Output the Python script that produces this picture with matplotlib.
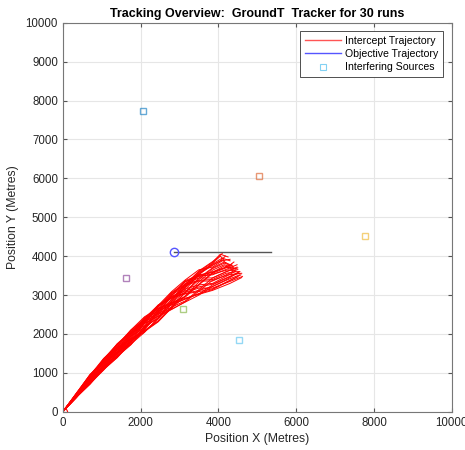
import matplotlib.pyplot as plt
from matplotlib.lines import Line2D

plt.rcParams['font.family'] = ['Liberation Sans', 'DejaVu Sans']

# mean track stations (metres)
station_x = [0, 350, 700, 1050, 1400, 1750, 2100, 2450, 2800, 3150, 3500, 3850]
station_y = [0, 420, 835, 1220, 1570, 1910, 2240, 2540, 2830, 3100, 3320, 3480]

# per-run vertical deviation from the mean track at stations 1..11
run_dy = [
    [30, 90, 40, -60, -120, -40, 80, 180, 120, 240, 300],
    [-40, -110, -150, -90, 20, 130, 60, -80, -200, -280, -340],
    [10, 60, 140, 170, 90, -30, -150, -60, 90, 180, 120],
    [-20, 30, -40, -140, -180, -100, 20, 150, 240, 160, 60],
    [50, 120, 100, 30, -60, -150, -200, -120, 40, 200, 340],
    [-55, -120, -80, 20, 120, 180, 110, -40, -180, -300, -360],
    [20, -30, -100, -160, -90, 40, 170, 220, 150, 40, -120],
    [-10, 70, 130, 80, -40, -160, -220, -150, -20, 120, 220],
    [40, 20, -50, -20, 80, 160, 200, 120, -60, -200, -260],
    [-30, -80, -20, 90, 170, 120, -10, -140, -250, -180, -40],
    [15, 100, 150, 110, 30, -70, -120, 20, 180, 280, 360],
    [-45, -60, 10, 120, 190, 200, 120, -20, -150, -60, 80],
    [5, -50, -130, -180, -140, -50, 80, 200, 270, 200, 100],
    [35, 80, 20, -80, -170, -200, -130, 10, 130, 260, 320],
    [-15, -90, -140, -170, -100, 20, 140, 240, 180, 60, -80],
    [60, 110, 60, -30, -110, -180, -230, -160, -30, -140, -300],
    [-50, -20, 60, 150, 190, 140, 40, -80, -200, -290, -220],
    [25, 50, 110, 60, -20, 60, 160, 100, -40, 80, 200],
    [-25, -100, -60, 30, 100, 30, -90, -200, -270, -220, -100],
    [45, 10, -70, -130, -60, 70, 190, 260, 290, 330, 240],
    [-5, 40, 90, 40, -50, -120, -60, 70, 200, 120, -40],
    [20, -40, -110, -60, 40, 110, 180, 90, -70, -230, -320],
    [-35, -70, -20, 70, 140, 80, -40, -170, -120, 20, 160],
    [10, 80, 120, 160, 120, 30, -80, -190, -280, -320, -260],
    [-60, -20, 50, 10, -90, -190, -150, -30, 110, 220, 280],
    [30, -20, -80, -150, -190, -120, 0, 130, 60, -60, -180],
    [-20, 50, 100, 180, 150, 70, -20, 50, 170, 300, 380],
    [55, 120, 70, -40, -130, -80, 30, 160, 250, 170, 40],
    [-40, -130, -120, -40, 60, 150, 90, -50, -130, -40, 100],
    [0, 30, -20, -100, -10, 100, 200, 130, 10, -110, -200],
]
# last two fixes of each run
run_tail_x = [4100, 4250, 4150, 4250, 4050, 4300, 4200, 4150, 4250, 4200,
              4050, 4200, 4200, 4100, 4200, 4300, 4250, 4150, 4250, 4100,
              4200, 4300, 4150, 4250, 4050, 4200, 4000, 4200, 4150, 4250]
run_tail_y = [3900, 3350, 3700, 3650, 4000, 3300, 3520, 3850, 3400, 3600,
              4050, 3700, 3720, 3950, 3560, 3350, 3450, 3820, 3520, 3880,
              3600, 3380, 3780, 3420, 3880, 3480, 3980, 3660, 3750, 3460]
run_end_x = [4200, 4500, 4350, 4550, 4150, 4600, 4450, 4350, 4550, 4500,
             4250, 4400, 4500, 4300, 4450, 4620, 4520, 4380, 4600, 4300,
             4480, 4580, 4400, 4500, 4180, 4450, 4100, 4480, 4330, 4550]
run_end_y = [3820, 3470, 3800, 3600, 3900, 3450, 3650, 3760, 3520, 3700,
             3980, 3850, 3660, 3880, 3600, 3480, 3560, 3740, 3560, 3920,
             3720, 3520, 3700, 3580, 4000, 3620, 4070, 3780, 3680, 3600]

# objective start and path
objective_x = [2850, 5350]
objective_y = [4100, 4100]

# interfering sources
source_x = [2050, 5050, 7780, 1620, 3100, 4530]
source_y = [7720, 6060, 4520, 3450, 2650, 1850]
source_colors = ['#0072BD', '#D95319', '#EDB120', '#7E2F8E', '#77AC30', '#4DBEEE']

fig = plt.figure(figsize=(4.65, 4.5), dpi=100)
ax = fig.add_axes([0.135, 0.085, 0.8366, 0.8644])

for dy, tx, ty, ex, ey in zip(run_dy, run_tail_x, run_tail_y, run_end_x, run_end_y):
    xs = station_x + [tx, ex]
    ys = [station_y[0]] + [b + d for b, d in zip(station_y[1:], dy)] + [ty, ey]
    ax.plot(xs, ys, color='red', lw=0.7)
ax.plot(0, 0, 'o', mfc='none', mec='red', ms=6, mew=0.8)

ax.plot(objective_x, objective_y, color='#555555', lw=1.0)
ax.plot(objective_x[0], objective_y[0], 'o', mfc='none', mec='#5555ff', ms=6, mew=1.0)

for sx, sy, c in zip(source_x, source_y, source_colors):
    ax.plot(sx, sy, 's', mfc='none', mec=c, ms=5, mew=1.0, alpha=0.6)

ax.set_xlim(0, 10000)
ax.set_ylim(0, 10000)
ax.set_xticks(range(0, 10001, 2000))
ax.set_yticks(range(0, 10001, 1000))
ax.grid(True, color='#e6e6e6', lw=0.8)
ax.set_axisbelow(True)
ax.tick_params(direction='in', length=3, labelsize=8.3, color='#555555',
               top=True, right=True, labelcolor='#262626')
for s in ax.spines.values():
    s.set_color('#777777')
    s.set_linewidth(0.8)

ax.set_xlabel('Position X (Metres)', fontsize=8.8, color='#262626', labelpad=3)
ax.set_ylabel('Position Y (Metres)', fontsize=8.8, color='#262626', labelpad=5)
ax.set_title('Tracking Overview:  GroundT  Tracker for 30 runs',
             fontsize=9, fontweight='bold', pad=4)

handles = [
    Line2D([], [], color='#ff5555', lw=1.0),
    Line2D([], [], color='#5555ff', lw=1.0),
    Line2D([], [], ls='none', marker='s', mfc='none', mec='#4DBEEE', ms=4, mew=0.8, alpha=0.7),
]
leg = ax.legend(handles, ['Intercept Trajectory', 'Objective Trajectory', 'Interfering Sources'],
                loc='upper right', fontsize=7.6, fancybox=False, framealpha=1,
                edgecolor='#333333', borderpad=0.45, labelspacing=0.3,
                handlelength=3.4, handletextpad=0.4, borderaxespad=0.8)
leg.get_frame().set_linewidth(0.6)

fig.savefig('out.png', dpi=100)
